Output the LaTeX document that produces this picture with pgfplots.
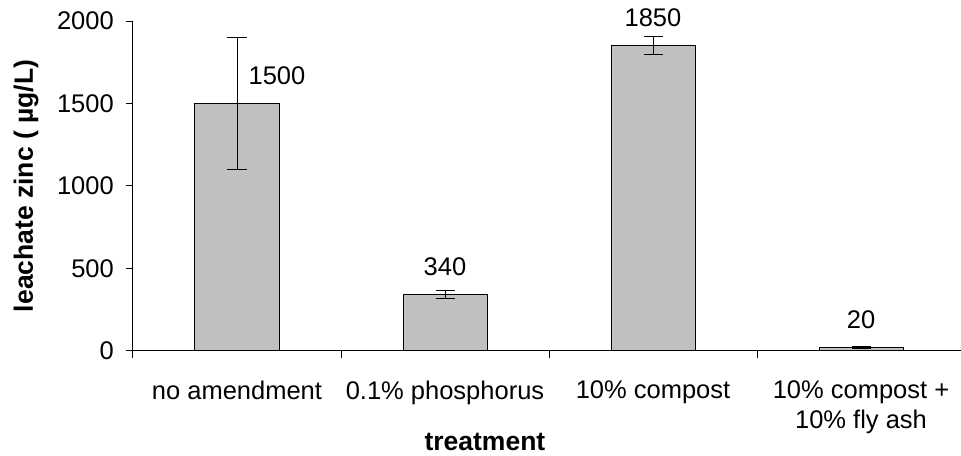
\documentclass[border=0pt]{standalone}
\usepackage{fontspec}
\setmainfont{Liberation Sans}
\usepackage{pgfplots}
\pgfplotsset{compat=1.18}
\usepackage{pgfplotstable}
\definecolor{barfill}{HTML}{C0C0C0}

\pgfplotstableread{
x y err dx lab
0 1500 400 40 1500
1 340 25 0 340
2 1850 55 0 1850
3 20 5 0 20
}\datatable

\begin{document}
\begin{tikzpicture}[font=\fontsize{25.5bp}{30bp}\selectfont]
\begin{axis}[
  at={(0,0)}, anchor=south west,
  scale only axis, width=832bp, height=329.6bp,
  xmin=-0.5, xmax=3.5, ymin=0, ymax=2000,
  axis lines*=left,
  axis line style={line width=1bp, black},
  tick align=outside,
  major tick length=7bp,
  tick style={line width=1bp, black},
  ytick={0,500,1000,1500,2000},
  yticklabel style={anchor=east, inner sep=0pt, xshift=-12bp},
  /pgf/number format/1000 sep={},
  /pgf/number format/assume math mode=true,
  xtick={-0.5,0.5,1.5,2.5},
  extra x ticks={3.5}, extra x tick labels={},
  xticklabels={no amendment, 0.1\% phosphorus, 10\% compost, {10\% compost +\\10\% fly ash}},
  xticklabel style={align=center, anchor=north, inner sep=0pt, xshift=104bp, yshift=-23bp},
  xlabel={\fontsize{26.5bp}{30bp}\selectfont\bfseries treatment},
  every axis x label/.style={at={(axis description cs:0.423,0)}, anchor=base, yshift=-99.5bp, inner sep=0pt},
  ylabel={\fontsize{26.5bp}{30bp}\selectfont\bfseries leachate zinc ( µg/L)},
  every axis y label/.style={at={(axis description cs:-0.1286,0.5)}, rotate=90, anchor=center, inner sep=0pt},
  clip=false,
]
\addplot[ybar, bar width=84bp, fill=barfill, draw=black, line width=1bp,
  error bars/.cd, y dir=both, y explicit,
  error bar style={line width=1bp, black},
  error mark options={rotate=90, line width=1bp, black, mark size=9.5bp},
] table[x=x, y=y, y error=err] {\datatable};
\addplot[ybar, bar width=84bp, draw=none, fill=none,
  visualization depends on={\thisrow{dx} \as \dx},
  point meta=explicit symbolic,
  nodes near coords,
  every node near coord/.append style={anchor=base, inner sep=0pt, yshift=19bp, xshift=\dx bp},
] table[x=x, y=y, meta=lab] {\datatable};
\end{axis}
\pgfresetboundingbox
\path (-133bp,-105.3bp) rectangle (828bp,350.7bp);
\end{tikzpicture}
\end{document}
